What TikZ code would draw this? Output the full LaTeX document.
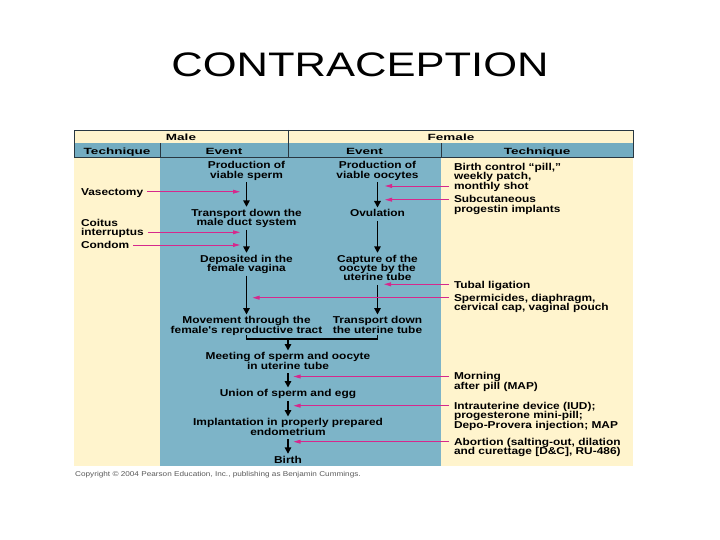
\documentclass[tikz,border=0pt]{standalone}
\usepackage{fontspec}
\usetikzlibrary{arrows.meta,calc}
\newfontfamily\dfont{Liberation Sans}[FakeStretch=1.19]
\newfontfamily\hfont{Liberation Sans}[FakeStretch=1.5]
\newfontfamily\tfont{Liberation Sans}[FakeStretch=1.28]
\newfontfamily\cfont{Liberation Sans}[FakeStretch=1.17]
\definecolor{cream}{RGB}{255,244,205}
\definecolor{cblue}{RGB}{125,180,200}
\definecolor{hblue}{RGB}{115,172,193}
\definecolor{magc}{RGB}{214,40,140}
\definecolor{rulec}{RGB}{40,55,65}
\newcommand\lstr{\rule[-2.3pt]{0pt}{9.3pt}}
\newcommand\bodyfont{\dfont\bfseries\fontsize{10}{9.3}\selectfont\lineskiplimit=-20pt\relax}
\begin{document}
\begin{tikzpicture}[x=1pt,y=-1pt,
  ev/.style={font=\bodyfont, align=center, inner sep=0pt, outer sep=2pt, anchor=north},
  tech/.style={font=\bodyfont, align=left, inner sep=0pt, outer sep=0pt, anchor=north west},
  hdr/.style={font=\hfont\bfseries\fontsize{9}{9}\selectfont, anchor=base, inner sep=0pt},
  blk/.style={line width=1.5pt, -{Triangle[length=6.5pt,width=6.5pt]}},
  bkt/.style={line width=1.2pt},
  magarr/.style={draw=magc, line width=0.9pt, -{Triangle[length=7pt,width=3.8pt]}, shorten <=4pt},
  magr/.style={magarr, shorten <=5pt},
  gridline/.style={draw=rulec, line width=0.8pt}
]
\useasboundingbox (0,0) rectangle (720,540);
% title
\node[font=\tfont\fontsize{34}{40}\selectfont, anchor=base, inner sep=0pt] (title) at (360,77) {CONTRACEPTION};
% backgrounds
\fill[cream] (74,130) rectangle (633,143.5);
\fill[hblue] (74,143.5) rectangle (633,157);
\fill[cream] (74,157) rectangle (160,466);
\fill[cblue] (160,157) rectangle (441,466);
\fill[cream] (441,157) rectangle (633,466);
\draw[gridline] (74,130) rectangle (633,157);
\draw[gridline] (288,130) -- (288,157);
\draw[gridline] (160,143.5) -- (160,157);
\draw[gridline] (441,143.5) -- (441,157);
% headers
\node[hdr] (hMale) at (181,141) {Male};
\node[hdr] (hFemale) at (451,141) {Female};
\node[hdr] (hT1) at (117,154.8) {Technique};
\node[hdr] (hE1) at (224,154.8) {Event};
\node[hdr] (hE2) at (364.5,154.8) {Event};
\node[hdr] (hT2) at (537,154.8) {Technique};
% male events
\node[ev] (ps) at (246.5,159.5) {\lstr Production of\\\lstr viable sperm};
\node[ev] (td) at (246.5,206.8) {\lstr Transport down the\\\lstr male duct system};
\node[ev] (dp) at (246.5,252.8) {\lstr Deposited in the\\\lstr female vagina};
\node[ev] (mv) at (246.5,314.5) {\lstr Movement through the\\\lstr female's reproductive tract};
% female events
\node[ev] (po) at (377.5,159.5) {\lstr Production of\\\lstr viable oocytes};
\node[ev] (ov) at (377.5,207.5) {\lstr Ovulation};
\node[ev] (cp) at (377.5,252.8) {\lstr Capture of the\\\lstr oocyte by the\\\lstr uterine tube};
\node[ev] (tr) at (377.5,314.5) {\lstr Transport down\\\lstr the uterine tube};
% joint events
\node[ev] (mt) at (288,350.5) {\lstr Meeting of sperm and oocyte\\\lstr in uterine tube};
\node[ev] (un) at (288,387.5) {\lstr Union of sperm and egg};
\node[ev] (im) at (288,416.5) {\lstr Implantation in properly prepared\\\lstr endometrium};
\node[ev] (bi) at (288,453.8) {\lstr Birth};
% male techniques
\node[tech] (vas) at (81,188.2) {\lstr Vasectomy};
\node[tech] (ci) at (81,218.8) {\lstr Coitus\\\lstr interruptus};
\node[tech] (con) at (81,241.5) {\lstr Condom};
% female techniques
\node[tech] (bc) at (454,163.2) {\lstr Birth control “pill,”\\\lstr weekly patch,\\\lstr monthly shot};
\node[tech] (sc) at (454,195.5) {\lstr Subcutaneous\\\lstr progestin implants};
\node[tech] (tl) at (454,280.8) {\lstr Tubal ligation};
\node[tech] (sp) at (454,294.2) {\lstr Spermicides, diaphragm,\\\lstr cervical cap, vaginal pouch};
\node[tech] (mo) at (454,372.5) {\lstr Morning\\\lstr after pill (MAP)};
\node[tech] (iud) at (454,402.2) {\lstr Intrauterine device (IUD);\\\lstr progesterone mini-pill;\\\lstr Depo-Provera injection; MAP};
\node[tech] (ab) at (454,438.2) {\lstr Abortion (salting-out, dilation\\\lstr and curettage [D\&C], RU-486)};
% copyright
\node[font=\cfont\fontsize{7}{8}\selectfont, text=black!65, anchor=base west, inner sep=0pt] (copy) at (75,476.5) {Copyright © 2004 Pearson Education, Inc., publishing as Benjamin Cummings.};
% black event arrows
\draw[blk] (ps) -- (td);
\draw[blk] (td) -- (dp);
\draw[blk] (dp) -- (mv);
\draw[blk] (po) -- (ov);
\draw[blk] (ov) -- (cp);
\draw[blk] (cp) -- (tr);
\coordinate (bk) at (288,339);
\draw[bkt] ($(mv.south)+(0,-2)$) |- (bk) -| ($(tr.south)+(0,-2)$);
\draw[blk] (bk) -- (mt);
\draw[blk] (mt) -- (un);
\draw[blk] (un) -- (im);
\draw[blk] (im) -- (bi);
% magenta technique arrows
\coordinate (tV) at (240,191.7);
\coordinate (tCI) at (240,232.3);
\coordinate (tCo) at (240,245);
\coordinate (tBC) at (385,186);
\coordinate (tSC) at (385,199.7);
\coordinate (tTL) at (384,284.3);
\coordinate (tSP) at (252.5,297.7);
\coordinate (tMo) at (293.5,376.5);
\coordinate (tIU) at (293.5,405.7);
\coordinate (tAb) at (293.5,441.7);
\draw[magarr] (vas.east |- tV) -- (tV);
\draw[magarr] (ci.east |- tCI) -- (tCI);
\draw[magarr] (con.east |- tCo) -- (tCo);
\draw[magr] (bc.west |- tBC) -- (tBC);
\draw[magr] (sc.west |- tSC) -- (tSC);
\draw[magr] (tl.west |- tTL) -- (tTL);
\draw[magr] (sp.west |- tSP) -- (tSP);
\draw[magr] (mo.west |- tMo) -- (tMo);
\draw[magr] (iud.west |- tIU) -- (tIU);
\draw[magr] (ab.west |- tAb) -- (tAb);
\end{tikzpicture}
\end{document}
